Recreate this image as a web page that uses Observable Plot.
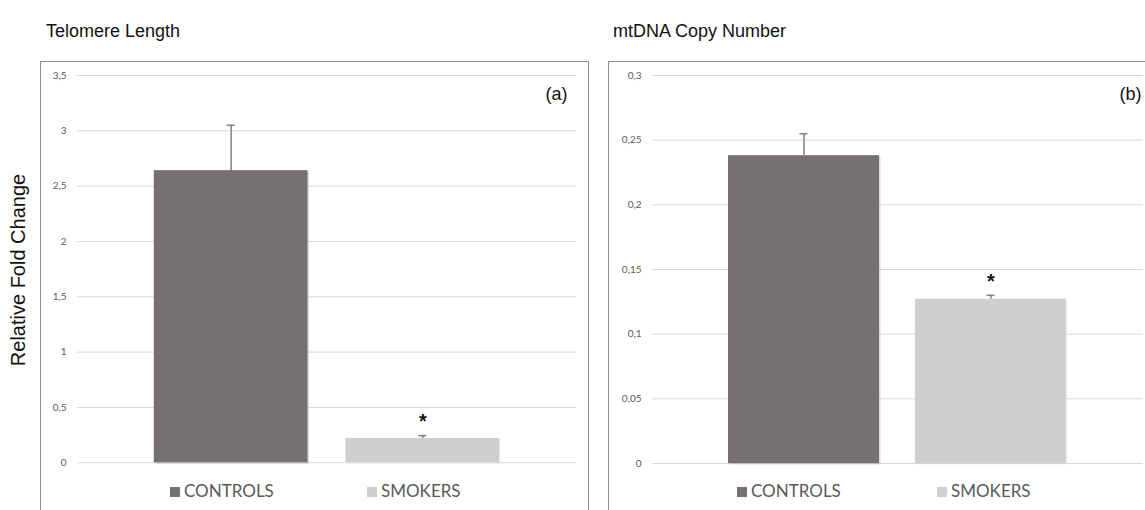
<!DOCTYPE html>
<html>
<head>
<meta charset="utf-8">
<script src="https://cdn.jsdelivr.net/npm/d3@7"></script>
<script src="https://cdn.jsdelivr.net/npm/@observablehq/plot@0.6"></script>
<style>
  html, body { margin: 0; padding: 0; background: #fff; }
  #root { position: relative; width: 1145px; height: 510px; overflow: hidden; font-family: "Liberation Sans", Arial, sans-serif; }
  .title { position: absolute; top: 21px; font-size: 18px; color: #111; white-space: nowrap; }
  .ytitle { position: absolute; left: 18px; top: 270px; transform: translate(-50%, -50%) rotate(-90deg); font-size: 20px; color: #111; white-space: nowrap; }
  .panel { position: absolute; top: 61px; height: 460px; border: 1.5px solid #8c8c8c; box-sizing: border-box; background: #fff; }
  .panel svg { position: absolute; left: 0; top: 0; }
  .legend { position: absolute; top: 419px; line-height: 20px; font-family: Lato, "Open Sans", sans-serif; font-size: 17px; color: #595959; white-space: nowrap; }
  .legend .sw { display: inline-block; width: 10px; height: 10px; margin-right: 4px; vertical-align: 0px; }
</style>
</head>
<body>
<div id="root">
  <div class="title" style="left:46px">Telomere Length</div>
  <div class="title" style="left:613px">mtDNA Copy Number</div>
  <div class="ytitle">Relative Fold Change</div>
  <div class="panel" id="pa" style="left:40px; width:549px"></div>
  <div class="panel" id="pb" style="left:608px; width:560px"></div>
</div>
<script>
const groups = ["CONTROLS", "SMOKERS"];
const colors = ["#767171", "#d0cece"];
const telomereMean = [2.64, 0.22];
const telomereErr = [0.41, 0.025];
const mtdnaMean = [0.238, 0.127];
const mtdnaErr = [0.017, 0.003];
const telomereTicks = [0, 0.5, 1, 1.5, 2, 2.5, 3, 3.5];
const mtdnaTicks = [0, 0.05, 0.1, 0.15, 0.2, 0.25, 0.3];
const significant = [false, true];
const panelLabels = ["(a)", "(b)"];

const fmt = d => String(d).replace(".", ",");

function makePanel(mean, err, ticks, maxY, label, opts) {
  const data = groups.map((g, i) => ({group: g, value: mean[i], upper: mean[i] + err[i], sig: significant[i]}));
  return Plot.plot({
    width: opts.width,
    height: 420,
    marginTop: 13,
    marginBottom: 19,
    marginLeft: opts.marginLeft,
    marginRight: opts.marginRight,
    style: {background: "transparent", overflow: "visible"},
    x: {domain: groups, paddingInner: opts.pi, paddingOuter: opts.po, axis: null},
    y: {domain: [0, maxY], ticks: ticks, tickFormat: fmt, tickSize: 0, tickPadding: 11, label: null},
    color: {domain: groups, range: colors},
    marks: [
      Plot.gridY(ticks, {stroke: "#d9d9d9", strokeOpacity: 1, strokeWidth: 1}),
      Plot.axisY(ticks, {tickSize: 0, tickPadding: 11, tickFormat: fmt, fontSize: 10, fill: "#595959", fontFamily: "Lato, 'Open Sans', sans-serif", label: null}),
      Plot.barY(data, {x: "group", y: "value", fill: "group", dx: 1.5, dy: 1.5, fillOpacity: 0.25}),
      Plot.barY(data, {x: "group", y: "value", fill: "group"}),
      Plot.ruleX(data, {x: "group", y1: "value", y2: "upper", stroke: "#808080", strokeWidth: 1.5}),
      Plot.tickY(data, {x: "group", y: "upper", stroke: "#808080", strokeWidth: 1.5, inset: opts.capInset}),
      Plot.text(data.filter(d => d.sig), {x: "group", y: "upper", text: () => "*", dy: -14, fontSize: 20, fontWeight: "bold", fill: "#111", fontFamily: "'Liberation Sans', Arial"}),
      Plot.text([label], {frameAnchor: "top-right", dx: opts.labelDx, dy: 12, fontSize: 18, fill: "#111", fontFamily: "'Liberation Sans', Arial", lineAnchor: "top"})
    ]
  });
}

function legend(container, positions) {
  groups.forEach((g, i) => {
    const d = document.createElement("div");
    d.className = "legend";
    d.style.left = positions[i] + "px";
    d.innerHTML = `<span class="sw" style="background:${colors[i]}"></span>${g}`;
    container.appendChild(d);
  });
}

const pa = document.getElementById("pa");
pa.appendChild(makePanel(telomereMean, telomereErr, telomereTicks, 3.5, panelLabels[0],
  {width: 548, marginLeft: 36, marginRight: 12, pi: 0.197, po: 0.397, capInset: 73, labelDx: -9}));
legend(pa, [129, 326]);

const pb = document.getElementById("pb");
pb.appendChild(makePanel(mtdnaMean, mtdnaErr, mtdnaTicks, 0.3, panelLabels[1],
  {width: 537, marginLeft: 43, marginRight: 3, pi: 0.192, po: 0.4025, capInset: 71.5, labelDx: -2}));
legend(pb, [128, 328]);
</script>
</body>
</html>
